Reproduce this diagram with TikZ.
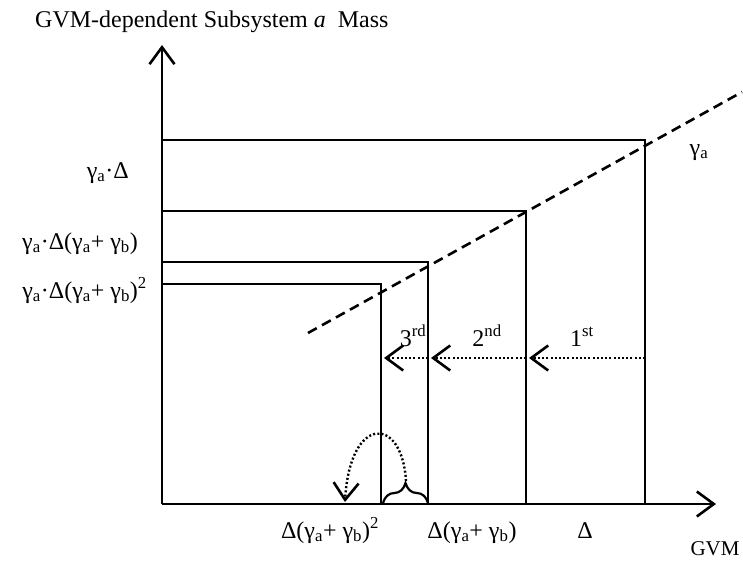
\documentclass[tikz,border=0pt]{standalone}
\usepackage{fontspec}
\setmainfont{Liberation Serif}
\usetikzlibrary{arrows.meta,decorations.pathreplacing}
\newcommand{\ga}{γ\textsubscript{a}}
\newcommand{\gb}{γ\textsubscript{b}}
\begin{document}
\begin{tikzpicture}[x=1pt,y=-1pt,
  barb/.style={-{Straight Barb[length=17pt,width=25pt,line width=2.6pt]}},
  axisline/.style={line width=2.6pt,barb},
  boxline/.style={line width=2.5pt},
  gammaline/.style={line width=2.6pt,dash pattern=on 10pt off 6pt},
  shiftarrow/.style={line width=2.4pt,dash pattern=on 2pt off 2.2pt,barb},
  lbl/.style={font=\fontsize{24}{26}\selectfont,inner sep=0pt},
  ttl/.style={font=\fontsize{24}{26}\selectfont,inner sep=0pt}]
\useasboundingbox (0,0) rectangle (743,567);
% axes
\coordinate (O) at (162,504);
\coordinate (Ytip) at (162,45);
\coordinate (Xtip) at (716,504);
\draw[axisline] (O) -- (Ytip);
\draw[axisline] (O) -- (Xtip);
% boxes
\coordinate (h1) at (162,140); \coordinate (c1) at (645,140); \coordinate (b1) at (645,504);
\coordinate (h2) at (162,211); \coordinate (c2) at (526,211); \coordinate (b2) at (526,504);
\coordinate (h3) at (162,262); \coordinate (c3) at (428,262); \coordinate (b3) at (428,504);
\coordinate (h4) at (162,284); \coordinate (c4) at (381,284); \coordinate (b4) at (381,504);
\draw[boxline] (h1) -- (c1) -- (b1);
\draw[boxline] (h2) -- (c2) -- (b2);
\draw[boxline] (h3) -- (c3) -- (b3);
\draw[boxline] (h4) -- (c4) -- (b4);
% gamma_a line
\coordinate (d0) at (308,333);
\coordinate (d1) at (742,92);
\draw[gammaline] (d0) -- (d1);
% shift arrows
\coordinate (a0) at (645,358); \coordinate (a1) at (529,358);
\coordinate (a2) at (526,358); \coordinate (a3) at (431,358);
\coordinate (a4) at (428,358); \coordinate (a5) at (384,358);
\draw[shiftarrow] (a0) -- (a1);
\draw[shiftarrow] (a2) -- (a3);
\draw[shiftarrow] (a4) -- (a5);
% brace and curved arrow
\coordinate (br0) at (383,503);
\coordinate (br1) at (428,503);
\draw[line width=2.2pt,decorate,decoration={brace,amplitude=20pt}] (br0) -- (br1);
\coordinate (cs) at (406,481);
\coordinate (ce) at (345,502);
\draw[shiftarrow] (cs) .. controls (402,415) and (350,415) .. (ce);
% labels
\node[ttl,anchor=base west] (title) at (35,28) {GVM-dependent Subsystem \textit{a}\ \ Mass};
\node[lbl,anchor=base east] (ly1) at (129,178) {\ga·Δ};
\node[lbl,anchor=base east] (ly2) at (138,249) {\ga·Δ(\ga+ \gb)};
\node[lbl,anchor=base east] (ly3) at (147,298) {\ga·Δ(\ga+ \gb)\textsuperscript{2}};
\node[lbl,anchor=base] (lx3) at (330,538) {Δ(\ga+ \gb)\textsuperscript{2}};
\node[lbl,anchor=base] (lx2) at (472,538) {Δ(\ga+ \gb)};
\node[lbl,anchor=base] (lx1) at (585,538) {Δ};
\node[lbl,font=\fontsize{21}{23}\selectfont,anchor=base] (gvm) at (715,555) {GVM};
\node[lbl,anchor=base] (gam) at (699,155) {\ga};
\node[lbl,anchor=base] (s1) at (582,346) {1\textsuperscript{st}};
\node[lbl,anchor=base] (s2) at (487,346) {2\textsuperscript{nd}};
\node[lbl,anchor=base] (s3) at (413,346) {3\textsuperscript{rd}};
\end{tikzpicture}
\end{document}
